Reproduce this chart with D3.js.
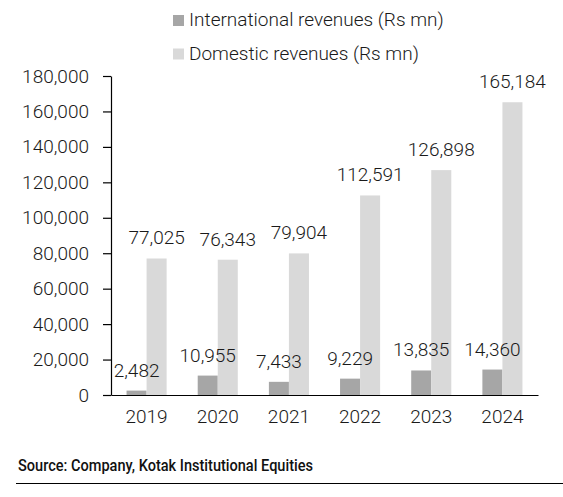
<!DOCTYPE html>
<html lang="en">
<head>
  <meta charset="UTF-8">
  <title>International vs domestic revenues</title>
  <script src="https://d3js.org/d3.v7.min.js"></script>
  <style>
    body { margin: 0; background: #fff; }
    text { font-family: Roboto, "Noto Sans", sans-serif; font-weight: 300; fill: #1a1a1a; }
    .axis path, .axis line { stroke: #000; stroke-width: 1.2; }
    .source { font-family: Roboto, sans-serif; font-weight: 500; font-size: 16px; fill: #111; }
  </style>
</head>
<body>
  <svg width="563" height="497"></svg>

  <script>
    const years = ["2019", "2020", "2021", "2022", "2023", "2024"];
    const international = [2482, 10955, 7433, 9229, 13835, 14360];
    const domestic = [77025, 76343, 79904, 112591, 126898, 165184];
    const seriesNames = ["International revenues (Rs mn)", "Domestic revenues (Rs mn)"];
    const colors = ["#a6a6a6", "#d9d9d9"];
    const yTicks = [0, 20000, 40000, 60000, 80000, 100000, 120000, 140000, 160000, 180000];

    const svg = d3.select("svg");
    const fmt = d3.format(",");

    const x = d3.scaleBand().domain(years).range([111, 538])
      .paddingInner(0.437).paddingOuter(0.2185);
    const xSub = d3.scaleBand().domain([0, 1]).range([0, x.bandwidth()]);
    const y = d3.scaleLinear().domain([0, 180000]).range([395, 76]);

    const series = [international, domestic];

    // bars first, then the labels on top
    series.forEach((vals, si) => {
      svg.append("g").selectAll("rect")
        .data(vals)
        .enter().append("rect")
        .attr("x", (d, i) => x(years[i]) + xSub(si))
        .attr("y", d => y(d))
        .attr("width", xSub.bandwidth())
        .attr("height", d => y(0) - y(d))
        .attr("fill", colors[si]);
    });
    series.forEach((vals, si) => {
      svg.append("g").selectAll("text")
        .data(vals)
        .enter().append("text")
        .attr("x", (d, i) => x(years[i]) + xSub(si) + xSub.bandwidth() / 2)
        .attr("y", d => y(d) - 14)
        .attr("text-anchor", "middle")
        .attr("font-size", 19)
        .text(d => fmt(d));
    });

    // y axis
    const yAxis = svg.append("g").attr("class", "axis")
      .attr("transform", "translate(111,0)")
      .call(d3.axisLeft(y).tickValues(yTicks).tickFormat(fmt).tickSize(8).tickSizeOuter(0).tickPadding(14));
    yAxis.selectAll("text").attr("font-size", 19).style("fill", "#1a1a1a");

    // x axis
    const xAxis = svg.append("g").attr("class", "axis")
      .attr("transform", "translate(0,395)")
      .call(d3.axisBottom(x).tickSize(0).tickSizeOuter(0).tickPadding(15));
    xAxis.selectAll("text").attr("font-size", 19).style("fill", "#1a1a1a");

    // legend
    const legend = svg.append("g");
    seriesNames.forEach((name, i) => {
      const base = 26 + i * 33.5;
      legend.append("rect")
        .attr("x", 173).attr("y", base - 11)
        .attr("width", 11).attr("height", 11)
        .attr("fill", colors[i]);
      legend.append("text")
        .attr("x", 189).attr("y", base)
        .attr("font-size", 19)
        .text(name);
    });

    // source
    svg.append("text").attr("class", "source")
      .attr("x", 18).attr("y", 471)
      .attr("textLength", 295).attr("lengthAdjust", "spacingAndGlyphs")
      .text("Source: Company, Kotak Institutional Equities");
    svg.append("line")
      .attr("x1", 16).attr("x2", 563)
      .attr("y1", 483.5).attr("y2", 483.5)
      .attr("stroke", "#000").attr("stroke-width", 1.2);
  </script>
</body>
</html>
